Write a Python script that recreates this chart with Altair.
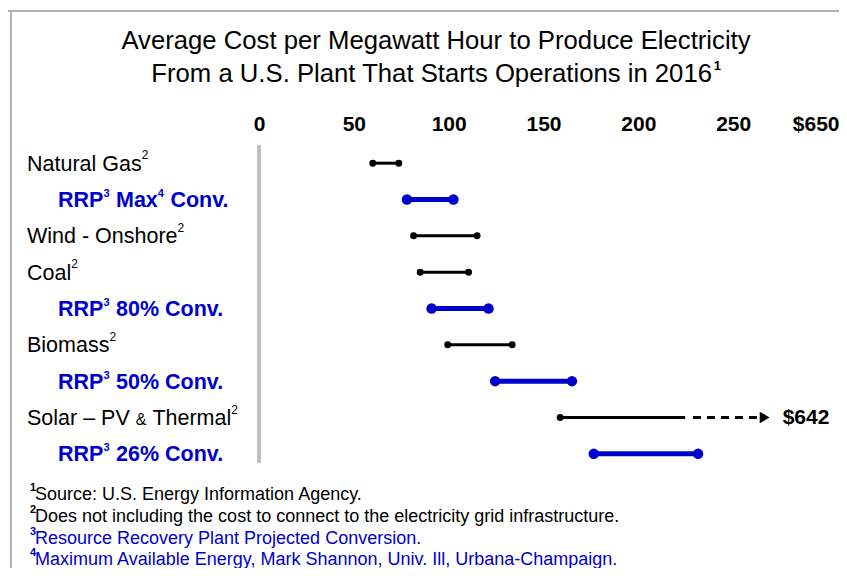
import altair as alt
import pandas as pd

FONT = "Liberation Sans"
BLUE = "#0000CC"

# ---------------- data ----------------
categories = [
    "Natural Gas",
    "RRP Max Conv.",
    "Wind - Onshore",
    "Coal",
    "RRP 80% Conv.",
    "Biomass",
    "RRP 50% Conv.",
    "Solar - PV & Thermal",
    "RRP 26% Conv.",
]
# label text pieces: (text, kind) kind: n = normal, s = superscript, a = small ampersand
label_parts = [
    [("Natural Gas", "n"), ("2", "s")],
    [("RRP", "n"), ("3", "s"), (" Max", "n"), ("4", "s"), (" Conv.", "n")],
    [("Wind - Onshore", "n"), ("2", "s")],
    [("Coal", "n"), ("2", "s")],
    [("RRP", "n"), ("3", "s"), (" 80% Conv.", "n")],
    [("Biomass", "n"), ("2", "s")],
    [("RRP", "n"), ("3", "s"), (" 50% Conv.", "n")],
    [("Solar – PV ", "n"), ("&", "a"), (" Thermal", "n"), ("2", "s")],
    [("RRP", "n"), ("3", "s"), (" 26% Conv.", "n")],
]
groups = ["EIA", "RRP", "EIA", "EIA", "RRP", "EIA", "RRP", "EIA", "RRP"]
low = [60, 78, 81.5, 85, 91, 99.5, 124.5, 158.8, 176.5]
high = [73.7, 102.5, 115, 110.5, 121, 133.5, 165, 224.7, 231.5]

solar_index = 7
solar_dash_start = 228.8    # dashed continuation after the axis break
solar_dash_end = 263.5
solar_arrow_at = 266.6
solar_label = "$642"

tick_values = [0, 50, 100, 150, 200, 250, 293.5]
tick_labels = ["0", "50", "100", "150", "200", "250", "$650"]

title_line1 = "Average Cost per Megawatt Hour to Produce Electricity"
title_line2 = "From a U.S. Plant That Starts Operations in 2016"
title_line2_sup = "1"

footnote_marks = ["1", "2", "3", "4"]
footnote_texts = [
    "Source: U.S. Energy Information Agency.",
    "Does not including the cost to connect to the electricity grid infrastructure.",
    "Resource Recovery Plant Projected Conversion.",
    "Maximum Available Energy, Mark Shannon, Univ. Ill, Urbana-Champaign.",
]
footnote_colors = ["black", "black", BLUE, BLUE]

# ---------------- text metrics (Arial / Liberation Sans, per 1000 em) ----------------
REG = {" ": 278, "-": 333, "–": 556, "&": 667, ".": 278, ",": 278, ":": 278, "%": 889}
for ch in "0123456789":
    REG[ch] = 556
REG.update(dict(A=667, B=667, C=722, D=722, E=667, F=611, G=778, H=722, I=278, J=500,
                K=667, L=556, M=833, N=722, O=778, P=667, Q=778, R=722, S=667, T=611,
                U=722, V=667, W=944, X=667, Y=667, Z=611))
REG.update(dict(a=556, b=556, c=500, d=556, e=556, f=278, g=556, h=556, i=222, j=222,
                k=500, l=222, m=833, n=556, o=556, p=556, q=556, r=333, s=500, t=278,
                u=556, v=500, w=722, x=500, y=500, z=500))
BOLD = dict(REG)
BOLD.update({"%": 889, "C": 722, "M": 833, "P": 667, "R": 722, "a": 556, "n": 611,
             "o": 611, "v": 556, "x": 556})


def text_width(s, size, bold=False):
    table = BOLD if bold else REG
    return sum(table.get(ch, 556) for ch in s) * size / 1000.0


# ---------------- frames ----------------
W, H = 569, 327

df = pd.DataFrame({"cat": categories, "group": groups, "low": low, "high": high})

pt_rows = []
for i, c in enumerate(categories):
    pt_rows.append({"cat": c, "group": groups[i], "v": low[i]})
    if i != solar_index:
        pt_rows.append({"cat": c, "group": groups[i], "v": high[i]})
pts = pd.DataFrame(pt_rows)

solar_df = pd.DataFrame({
    "cat": [categories[solar_index]],
    "x1": [solar_dash_start],
    "x2": [solar_dash_end],
    "arrow": [solar_arrow_at],
    "label": [solar_label],
})

label_expr = "datum.label"
for v, l in zip(tick_values, tick_labels):
    if str(v) != l:
        label_expr = f"datum.value == {v} ? '{l}' : ({label_expr})"

yscale = alt.Scale(type="point", padding=0.5, domain=categories)
Y = alt.Y("cat:N", scale=yscale, axis=None)
xscale = alt.Scale(domain=[0, 300], nice=False, zero=False)

ranges_black = alt.Chart(df).transform_filter("datum.group == 'EIA'").mark_rule(
    color="black", strokeWidth=3
).encode(
    x=alt.X("low:Q", scale=xscale, title=None,
            axis=alt.Axis(orient="top", values=tick_values, labelExpr=label_expr,
                          domain=False, ticks=False, tickSize=0, grid=False,
                          labelPadding=15, labelBaseline="alphabetic", labelFlush=False,
                          labelFont=FONT, labelFontSize=21, labelFontWeight="bold",
                          labelColor="black", title=None)),
    x2="high:Q",
    y=Y,
)
ranges_blue = alt.Chart(df).transform_filter("datum.group == 'RRP'").mark_rule(
    color=BLUE, strokeWidth=5
).encode(x=alt.X("low:Q", title=None), x2="high:Q", y=Y)

dots_black = alt.Chart(pts).transform_filter("datum.group == 'EIA'").mark_point(
    shape="circle", filled=True, color="black", size=48, opacity=1
).encode(x=alt.X("v:Q", title=None), y=Y)
dots_blue = alt.Chart(pts).transform_filter("datum.group == 'RRP'").mark_point(
    shape="circle", filled=True, color=BLUE, size=110, opacity=1
).encode(x=alt.X("v:Q", title=None), y=Y)

solar_dash = alt.Chart(solar_df).mark_rule(
    color="black", strokeWidth=3, strokeDash=[8, 6]
).encode(x=alt.X("x1:Q", title=None), x2="x2:Q", y=Y)
solar_arrow = alt.Chart(solar_df).mark_point(
    shape="triangle-right", filled=True, color="black", size=130, opacity=1
).encode(x=alt.X("arrow:Q", title=None), y=Y)
solar_text = alt.Chart(solar_df).mark_text(
    align="left", baseline="middle", font=FONT, fontSize=21, fontWeight="bold",
    color="black", dx=18
).encode(x=alt.X("arrow:Q", title=None), y=Y, text="label:N")

zero_line = alt.Chart(df).mark_rule(color="#C0C0C0", strokeWidth=3).encode(
    x=alt.datum(0), y=alt.value(0), y2=alt.value(318)
)

# frame lines
frame_top = alt.Chart(df.head(1)).mark_rule(color="#999999", strokeWidth=1.5).encode(
    x=alt.value(-252), x2=alt.value(600), y=alt.value(-134)
)
frame_left = alt.Chart(df.head(1)).mark_rule(color="#999999", strokeWidth=1.5).encode(
    x=alt.value(-248), y=alt.value(-134), y2=alt.value(440)
)

layers = [frame_top, frame_left, zero_line, ranges_black, ranges_blue, dots_black,
          dots_blue, solar_dash, solar_arrow, solar_text]

# category labels built from pieces (superscripts raised and smaller)
LABEL_SIZE = 21.5
for cat, grp, parts in zip(categories, groups, label_parts):
    bold = grp == "RRP"
    color = BLUE if bold else "black"
    xpos = -201 if bold else -232
    for txt, kind in parts:
        if kind == "n":
            size, dy, w_bold = LABEL_SIZE, 7.5, bold
        elif kind == "a":
            size, dy, w_bold = 16, 7.5, bold
        else:
            size, dy, w_bold = (11, -2.5, True) if bold else (12, -3.8, False)
        lead = len(txt) - len(txt.lstrip(" "))
        xpos += text_width(" " * lead, LABEL_SIZE, bold)
        core = txt.strip(" ")
        trail = len(txt) - lead - len(core)
        layers.append(
            alt.Chart(pd.DataFrame({"cat": [cat], "t": [core]})).mark_text(
                align="left", baseline="alphabetic", font=FONT, fontSize=size,
                fontWeight="bold" if w_bold else "normal", color=color, dy=dy
            ).encode(x=alt.value(round(xpos, 2)), y=Y, text="t:N")
        )
        xpos += text_width(core, size, w_bold) + (0.5 if kind == "s" else 0)
        xpos += text_width(" " * trail, LABEL_SIZE, bold)

# title
TITLE_SIZE = 25.7
TITLE_CX = 177
layers.append(
    alt.Chart(pd.DataFrame({"t": [title_line1]})).mark_text(
        align="center", baseline="alphabetic", font=FONT, fontSize=TITLE_SIZE, color="black"
    ).encode(x=alt.value(TITLE_CX), y=alt.value(-96), text="t:N")
)
w2 = text_width(title_line2, TITLE_SIZE)
x2start = TITLE_CX - (w2 + 8) / 2
layers.append(
    alt.Chart(pd.DataFrame({"t": [title_line2]})).mark_text(
        align="left", baseline="alphabetic", font=FONT, fontSize=TITLE_SIZE, color="black"
    ).encode(x=alt.value(round(x2start, 2)), y=alt.value(-63), text="t:N")
)
layers.append(
    alt.Chart(pd.DataFrame({"t": [title_line2_sup]})).mark_text(
        align="left", baseline="alphabetic", font=FONT, fontSize=13, fontWeight="bold",
        color="black"
    ).encode(x=alt.value(round(x2start + w2 + 1, 2)), y=alt.value(-75), text="t:N")
)

# footnotes
fn_y = [355, 377, 399, 420]
for m, t, c, yv in zip(footnote_marks, footnote_texts, footnote_colors, fn_y):
    layers.append(
        alt.Chart(pd.DataFrame({"t": [t]})).mark_text(
            align="left", baseline="alphabetic", font=FONT, fontSize=18, color=c
        ).encode(x=alt.value(-224), y=alt.value(yv), text="t:N")
    )
    layers.append(
        alt.Chart(pd.DataFrame({"t": [m]})).mark_text(
            align="left", baseline="alphabetic", font=FONT, fontSize=11,
            fontWeight="bold", color=c
        ).encode(x=alt.value(-229), y=alt.value(yv - 9), text="t:N")
    )

chart = alt.layer(*layers).properties(
    width=W, height=H,
    autosize=alt.AutoSizeParams(type="none"),
    padding={"left": 251, "top": 137, "right": 11, "bottom": 96},
    background="white",
).configure_view(stroke=None)

chart.save("out.html", embed_options={"renderer": "svg", "actions": False})
